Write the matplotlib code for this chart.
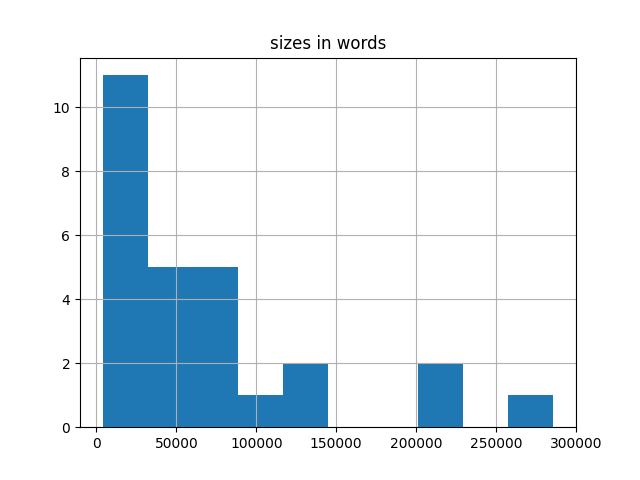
import matplotlib
matplotlib.use("Agg")
import matplotlib.pyplot as plt

# word counts per document
sizes_in_words = [
    3800, 8200, 11500, 14000, 16800, 19500, 22100, 24600, 27000, 29300, 31000,
    35500, 41200, 47800, 53400, 58900,
    63000, 69500, 75200, 80800, 86100,
    102000,
    121500, 138000,
    208000, 221000,
    285500,
]
n_bins = 10

fig, ax = plt.subplots(figsize=(6.4, 4.8), dpi=100)
ax.hist(sizes_in_words, bins=n_bins, color="#1f77b4")
ax.grid(True)
ax.set_title("sizes in words")
ax.set_xticks([0, 50000, 100000, 150000, 200000, 250000, 300000])
ax.set_xticklabels(["0", "50000", "100000", "150000", "200000", "250000", "300000"])
fig.savefig("out.png")
